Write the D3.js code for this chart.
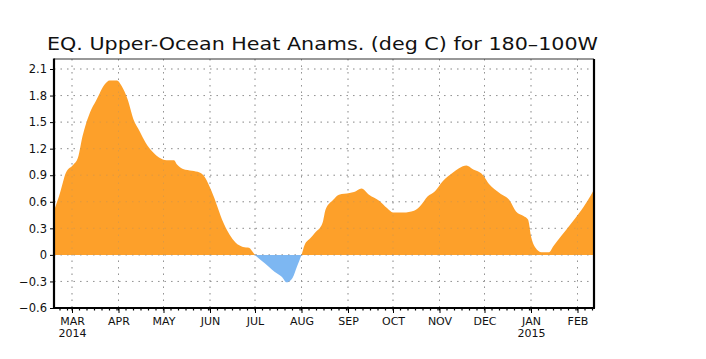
<!DOCTYPE html>
<html>
<head>
<meta charset="utf-8">
<script src="https://cdn.jsdelivr.net/npm/d3@7"></script>
<style>
  html, body { margin: 0; padding: 0; background: #fff; }
  svg { display: block; }
</style>
</head>
<body>
<svg id="chart" width="706" height="359"></svg>
<script>
// ---- data ----
const titleText = "EQ. Upper-Ocean Heat Anams. (deg C) for 180\u2013100W";
const dates = [
  "2014-02-17","2014-02-21","2014-02-25","2014-03-02","2014-03-05","2014-03-08","2014-03-13","2014-03-17",
  "2014-03-23","2014-03-26","2014-03-31","2014-04-03","2014-04-07","2014-04-11","2014-04-15","2014-04-19",
  "2014-04-24","2014-04-28","2014-05-03","2014-05-08","2014-05-10","2014-05-14","2014-05-20","2014-05-25",
  "2014-05-28","2014-06-01","2014-06-05","2014-06-09","2014-06-14","2014-06-18","2014-06-23","2014-06-27",
  "2014-06-30","2014-07-01","2014-07-05","2014-07-10","2014-07-14","2014-07-19","2014-07-22","2014-07-26",
  "2014-07-29","2014-08-01","2014-08-03","2014-08-07","2014-08-10","2014-08-15","2014-08-17","2014-08-22",
  "2014-08-26","2014-09-02","2014-09-05","2014-09-10","2014-09-15","2014-09-22","2014-09-27","2014-10-01",
  "2014-10-08","2014-10-15","2014-10-19","2014-10-24","2014-10-29","2014-11-03","2014-11-10","2014-11-14",
  "2014-11-19","2014-11-23","2014-11-30","2014-12-04","2014-12-11","2014-12-18","2014-12-22","2014-12-27",
  "2014-12-30","2015-01-01","2015-01-04","2015-01-08","2015-01-13","2015-01-16","2015-01-21","2015-01-28",
  "2015-02-02","2015-02-08","2015-02-12"
];
const values = [
  0.50, 0.70, 0.93, 1.02, 1.10, 1.34, 1.61, 1.74,
  1.93, 1.97, 1.97, 1.91, 1.76, 1.53, 1.40, 1.27,
  1.16, 1.10, 1.07, 1.07, 1.02, 0.97, 0.95, 0.93,
  0.89, 0.76, 0.59, 0.40, 0.23, 0.14, 0.09, 0.08,
  0.02, 0.00, -0.06, -0.13, -0.19, -0.25, -0.31, -0.26,
  -0.13, 0.00, 0.11, 0.19, 0.25, 0.36, 0.51, 0.62,
  0.68, 0.70, 0.71, 0.75, 0.68, 0.61, 0.53, 0.48,
  0.48, 0.50, 0.55, 0.66, 0.72, 0.83, 0.93, 0.98,
  1.01, 0.97, 0.90, 0.80, 0.70, 0.61, 0.49, 0.44,
  0.40, 0.21, 0.08, 0.03, 0.03, 0.10, 0.21, 0.36,
  0.47, 0.62, 0.74
];
const yTicks = [-0.6, -0.3, 0, 0.3, 0.6, 0.9, 1.2, 1.5, 1.8, 2.1];
const yTickLabels = ["\u22120.6", "\u22120.3", "0", "0.3", "0.6", "0.9", "1.2", "1.5", "1.8", "2.1"];
const monthTicks = ["2014-03-01","2014-04-01","2014-05-01","2014-06-01","2014-07-01","2014-08-01",
  "2014-09-01","2014-10-01","2014-11-01","2014-12-01","2015-01-01","2015-02-01"];
const monthLabels = ["MAR","APR","MAY","JUN","JUL","AUG","SEP","OCT","NOV","DEC","JAN","FEB"];
const yearLabels = ["2014","","","","","","","","","","2015",""];
const xDomain = ["2014-02-17", "2015-02-12"];
const yDomain = [-0.6, 2.213];

// ---- layout ----
const parse = d3.utcParse("%Y-%m-%d");
const L = 54, R = 594, T = 59, B = 308;
const svg = d3.select("#chart");
const font = "'DejaVu Sans', 'Liberation Sans', sans-serif";

const x = d3.scaleUtc().domain(xDomain.map(parse)).range([L, R]);
const y = d3.scaleLinear().domain(yDomain).range([B, T]);

const data = dates.map((d, i) => ({ date: parse(d), v: values[i] }));

svg.append("rect").attr("width", 706).attr("height", 359).attr("fill", "#fff");

const defs = svg.append("defs");
defs.append("clipPath").attr("id", "pos").append("rect")
  .attr("x", L).attr("y", T).attr("width", R - L).attr("height", y(0) - T);
defs.append("clipPath").attr("id", "neg").append("rect")
  .attr("x", L).attr("y", y(0)).attr("width", R - L).attr("height", B - y(0));

function drawGrid(g, color, op) {
  g.selectAll(".hg").data(yTicks.filter(t => t > -0.6)).join("line")
    .attr("x1", L).attr("x2", R).attr("y1", d => y(d)).attr("y2", d => y(d))
    .attr("stroke", color).attr("stroke-opacity", op).attr("stroke-width", 1)
    .attr("stroke-dasharray", "1.5,5");
  g.selectAll(".vg").data(monthTicks.map(parse)).join("line")
    .attr("x1", d => x(d)).attr("x2", d => x(d)).attr("y1", T).attr("y2", B)
    .attr("stroke", color).attr("stroke-opacity", op).attr("stroke-width", 1)
    .attr("stroke-dasharray", "1.5,5");
}
drawGrid(svg.append("g"), "#999", 1);

const area = d3.area().curve(d3.curveMonotoneX)
  .x(d => x(d.date)).y0(y(0)).y1(d => y(d.v));
svg.append("path").datum(data).attr("d", area).attr("fill", "#FDA02A").attr("clip-path", "url(#pos)");
svg.append("path").datum(data).attr("d", area).attr("fill", "#7DB7F2").attr("clip-path", "url(#neg)");

drawGrid(svg.append("g"), "#888", 0.25);

// frame
svg.append("line").attr("x1", L).attr("x2", R).attr("y1", T).attr("y2", T)
  .attr("stroke", "#333").attr("stroke-width", 1.2);
svg.append("line").attr("x1", R).attr("x2", R).attr("y1", T).attr("y2", B)
  .attr("stroke", "#000").attr("stroke-width", 2.2);
svg.append("line").attr("x1", L).attr("x2", L).attr("y1", T - 0.5).attr("y2", B + 1)
  .attr("stroke", "#000").attr("stroke-width", 2.2);
svg.append("line").attr("x1", L).attr("x2", R + 1).attr("y1", B).attr("y2", B)
  .attr("stroke", "#000").attr("stroke-width", 2.2);

// y axis
const yAxis = d3.axisLeft(y).tickValues(yTicks).tickSize(4).tickPadding(3)
  .tickFormat((d, i) => yTickLabels[i]);
const gy = svg.append("g").attr("transform", `translate(${L},0)`).call(yAxis);
gy.select(".domain").remove();
gy.selectAll(".tick line").attr("stroke", "#000").attr("stroke-width", 1);
gy.selectAll(".tick text").attr("font-family", font).attr("font-size", 11.5).attr("fill", "#111");

// minor x ticks (every 5 days)
const minor = d3.utcDay.every(5).range(x.domain()[0], x.domain()[1]);
svg.append("g").selectAll("line").data(minor).join("line")
  .attr("x1", d => x(d)).attr("x2", d => x(d)).attr("y1", B).attr("y2", B + 2.5)
  .attr("stroke", "#000").attr("stroke-width", 1.2);

// x axis
const xAxis = d3.axisBottom(x).tickValues(monthTicks.map(parse)).tickSize(5).tickPadding(4)
  .tickFormat((d, i) => monthLabels[i]);
const gx = svg.append("g").attr("transform", `translate(0,${B})`).call(xAxis);
gx.select(".domain").remove();
gx.selectAll(".tick line").attr("stroke", "#000").attr("stroke-width", 1);
gx.selectAll(".tick text").attr("font-family", font).attr("font-size", 11).attr("fill", "#111");
gx.selectAll(".tick").append("text")
  .attr("y", 29).attr("text-anchor", "middle")
  .attr("font-family", font).attr("font-size", 11).attr("fill", "#111")
  .text((d, i) => yearLabels[i]);

// title
svg.append("text").attr("x", 47).attr("y", 50)
  .attr("font-family", font).attr("font-size", 18).attr("fill", "#111")
  .attr("textLength", 551).attr("lengthAdjust", "spacingAndGlyphs")
  .text(titleText);
</script>
</body>
</html>
